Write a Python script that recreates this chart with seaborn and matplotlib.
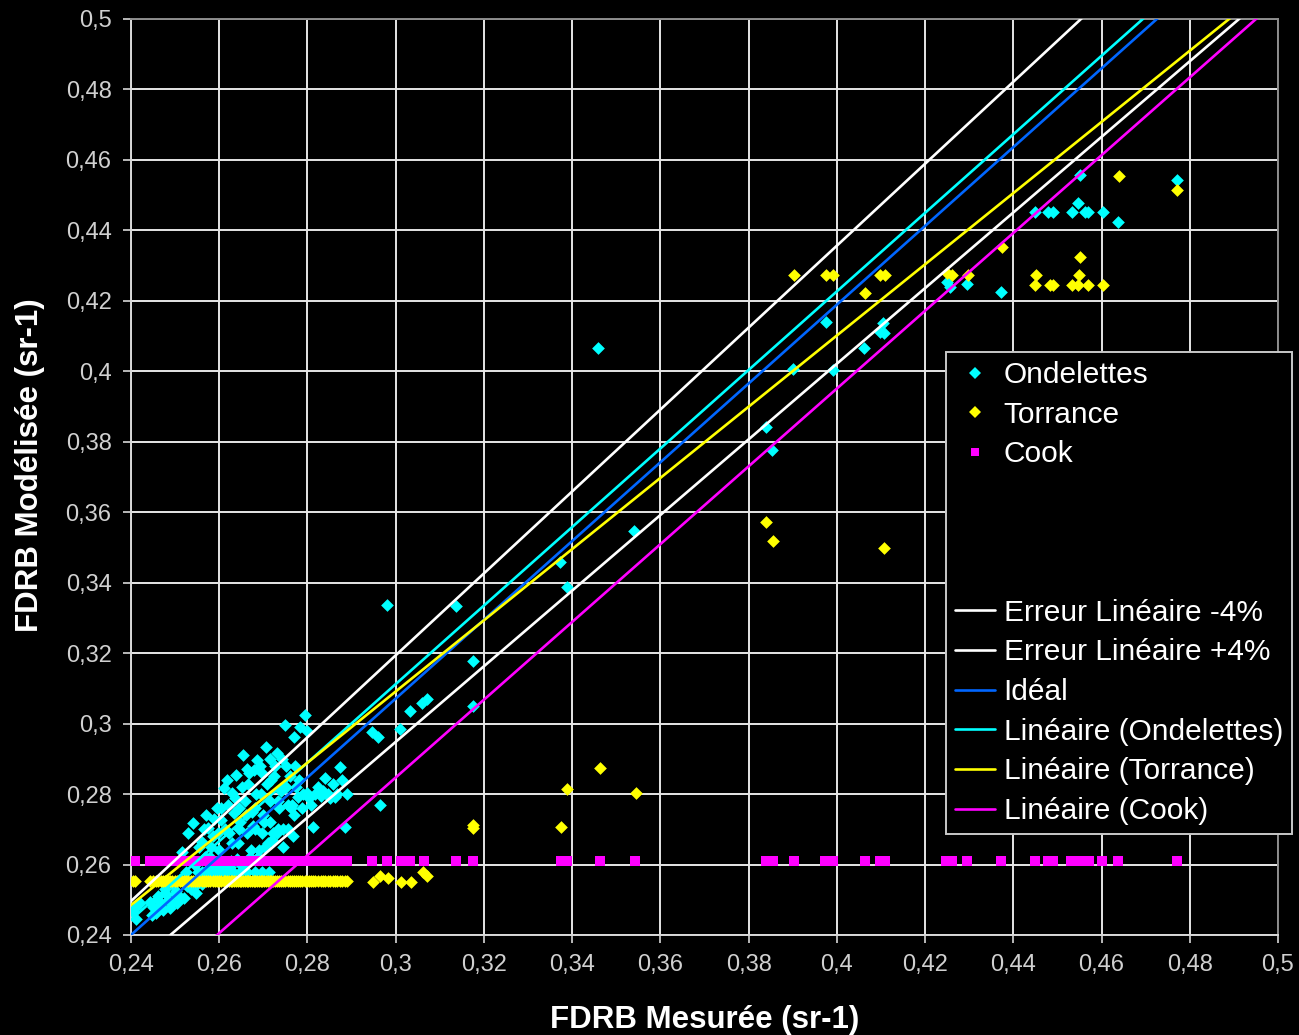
import numpy as np
import pandas as pd
import matplotlib
matplotlib.use("Agg")
import matplotlib.pyplot as plt
from matplotlib.ticker import MultipleLocator, FuncFormatter
from matplotlib.lines import Line2D
import seaborn as sns

sns.set_style("dark")
plt.rcParams["font.family"] = ["Liberation Sans", "DejaVu Sans"]

# ---------------------------------------------------------------------------
# FDRB mesurée (amas des faibles valeurs) et FDRB modélisée par chaque modèle
# ---------------------------------------------------------------------------
amas_x = [
    0.2405, 0.2410, 0.2444, 0.2450, 0.2456, 0.2461, 0.2467, 0.2472, 0.2478, 0.2483,
    0.2489, 0.2494, 0.2500, 0.2505, 0.2510, 0.2515, 0.2520, 0.2525, 0.2530, 0.2535,
    0.2540, 0.2545, 0.2550, 0.2555, 0.2560, 0.2565, 0.2570, 0.2575, 0.2580, 0.2585,
    0.2590, 0.2595, 0.2600, 0.2605, 0.2610, 0.2614, 0.2618, 0.2622, 0.2626, 0.2630,
    0.2634, 0.2638, 0.2642, 0.2646, 0.2650, 0.2654, 0.2658, 0.2662, 0.2666, 0.2670,
    0.2674, 0.2678, 0.2682, 0.2686, 0.2690, 0.2694, 0.2698, 0.2702, 0.2706, 0.2710,
    0.2714, 0.2718, 0.2722, 0.2726, 0.2730, 0.2735, 0.2740, 0.2745, 0.2750, 0.2755,
    0.2760, 0.2765, 0.2770, 0.2775, 0.2779, 0.2783, 0.2788, 0.2794, 0.2798, 0.2803,
    0.2808, 0.2813, 0.2818, 0.2824, 0.2830, 0.2836, 0.2840, 0.2846, 0.2852, 0.2858,
    0.2862, 0.2868, 0.2874, 0.2879, 0.2885, 0.2890,
]
ondelettes_amas = [
    0.2465, 0.2478, 0.2495, 0.2480, 0.2462, 0.2510, 0.2488, 0.2470, 0.2530, 0.2500,
    0.2476, 0.2545, 0.2515, 0.2490, 0.2560, 0.2635, 0.2505, 0.2580, 0.2690, 0.2530,
    0.2718, 0.2600, 0.2545, 0.2650, 0.2578, 0.2700, 0.2740, 0.2560, 0.2620, 0.2680,
    0.2595, 0.2760, 0.2640, 0.2726, 0.2817, 0.2580, 0.2840, 0.2690, 0.2610, 0.2803,
    0.2746, 0.2854, 0.2660, 0.2720, 0.2600, 0.2911, 0.2780, 0.2690, 0.2830, 0.2620,
    0.2750, 0.2868, 0.2700, 0.2897, 0.2640, 0.2800, 0.2860, 0.2720, 0.2934, 0.2660,
    0.2780, 0.2840, 0.2690, 0.2880, 0.2917, 0.2760, 0.2810, 0.2700, 0.2996, 0.2770,
    0.2850, 0.2769, 0.2962, 0.2820, 0.2792, 0.2990, 0.2760, 0.3024, 0.2803, 0.2790,
    0.2769, 0.2707, 0.2800, 0.2820, 0.2795, 0.2810, 0.2846, 0.2800, 0.2790, 0.2830,
    0.2792, 0.2800, 0.2877, 0.2840, 0.2707, 0.2800,
]
torrance_amas = [
    0.2553, 0.2553, 0.2553, 0.2552, 0.2553, 0.2552, 0.2553, 0.2552, 0.2553, 0.2552,
    0.2553, 0.2552, 0.2553, 0.2552, 0.2553, 0.2552, 0.2553, 0.2552, 0.2553, 0.2552,
    0.2553, 0.2552, 0.2553, 0.2552, 0.2553, 0.2552, 0.2553, 0.2552, 0.2553, 0.2552,
    0.2553, 0.2552, 0.2553, 0.2552, 0.2553, 0.2552, 0.2553, 0.2552, 0.2553, 0.2552,
    0.2553, 0.2552, 0.2553, 0.2552, 0.2553, 0.2552, 0.2553, 0.2552, 0.2553, 0.2552,
    0.2553, 0.2552, 0.2553, 0.2552, 0.2553, 0.2552, 0.2553, 0.2552, 0.2553, 0.2552,
    0.2553, 0.2552, 0.2553, 0.2552, 0.2553, 0.2552, 0.2553, 0.2552, 0.2553, 0.2552,
    0.2553, 0.2552, 0.2553, 0.2552, 0.2553, 0.2552, 0.2553, 0.2552, 0.2553, 0.2552,
    0.2553, 0.2552, 0.2553, 0.2552, 0.2553, 0.2552, 0.2553, 0.2552, 0.2553, 0.2552,
    0.2553, 0.2552, 0.2553, 0.2552, 0.2553, 0.2552,
]
cook_amas = [
    0.2610, 0.2610, 0.2610, 0.2610, 0.2610, 0.2610, 0.2610, 0.2610, 0.2610, 0.2610,
    0.2610, 0.2610, 0.2610, 0.2610, 0.2610, 0.2610, 0.2610, 0.2610, 0.2610, 0.2610,
    0.2610, 0.2610, 0.2610, 0.2610, 0.2610, 0.2610, 0.2610, 0.2610, 0.2610, 0.2610,
    0.2610, 0.2610, 0.2610, 0.2610, 0.2610, 0.2610, 0.2610, 0.2610, 0.2610, 0.2610,
    0.2610, 0.2610, 0.2610, 0.2610, 0.2610, 0.2610, 0.2610, 0.2610, 0.2610, 0.2610,
    0.2610, 0.2610, 0.2610, 0.2610, 0.2610, 0.2610, 0.2610, 0.2610, 0.2610, 0.2610,
    0.2610, 0.2610, 0.2610, 0.2610, 0.2610, 0.2610, 0.2610, 0.2610, 0.2610, 0.2610,
    0.2610, 0.2610, 0.2610, 0.2610, 0.2610, 0.2610, 0.2610, 0.2610, 0.2610, 0.2610,
    0.2610, 0.2610, 0.2610, 0.2610, 0.2610, 0.2610, 0.2610, 0.2610, 0.2610, 0.2610,
    0.2610, 0.2610, 0.2610, 0.2610, 0.2610, 0.2610,
]

# Ondelettes : bande dense des faibles valeurs
ondelettes_bande_x = [
    0.2412, 0.2420, 0.2448, 0.2458, 0.2470, 0.2480, 0.2492, 0.2503, 0.2514, 0.2526,
    0.2537, 0.2548, 0.2552, 0.2560, 0.2568, 0.2576, 0.2584, 0.2592, 0.2600, 0.2608,
    0.2616, 0.2624, 0.2632, 0.2640, 0.2648, 0.2656, 0.2664, 0.2672, 0.2680, 0.2688,
    0.2696, 0.2704, 0.2712, 0.2720, 0.2732, 0.2744, 0.2756, 0.2768,
]
ondelettes_bande_y = [
    0.2445, 0.2490, 0.2458, 0.2502, 0.2478, 0.2515, 0.2492, 0.2525, 0.2505, 0.2540,
    0.2550, 0.2520, 0.2578, 0.2545, 0.2578, 0.2590, 0.2578, 0.2560, 0.2578, 0.2600,
    0.2578, 0.2592, 0.2578, 0.2615, 0.2578, 0.2600, 0.2578, 0.2640, 0.2578, 0.2620,
    0.2578, 0.2650, 0.2578, 0.2670, 0.2690, 0.2650, 0.2700, 0.2680,
]
# Ondelettes : coeur de l'amas
ondelettes_coeur_x = [
    0.2562, 0.2568, 0.2574, 0.2582, 0.2588, 0.2597, 0.2603, 0.2612, 0.2620, 0.2628,
    0.2636, 0.2644, 0.2652, 0.2660, 0.2668, 0.2676, 0.2684, 0.2692, 0.2700, 0.2708,
    0.2716, 0.2724, 0.2733, 0.2742, 0.2752, 0.2762, 0.2772, 0.2781, 0.2790, 0.2800,
    0.2644, 0.2662, 0.2680, 0.2698, 0.2716, 0.2734, 0.2752, 0.2770,
]
ondelettes_coeur_y = [
    0.2665, 0.2620, 0.2705, 0.2650, 0.2730, 0.2690, 0.2760, 0.2700, 0.2770, 0.2660,
    0.2790, 0.2700, 0.2820, 0.2740, 0.2860, 0.2710, 0.2800, 0.2880, 0.2740, 0.2830,
    0.2720, 0.2850, 0.2780, 0.2900, 0.2820, 0.2760, 0.2880, 0.2840, 0.2800, 0.2980,
    0.2760, 0.2870, 0.2760, 0.2690, 0.2900, 0.2700, 0.2880, 0.2740,
]

# Valeurs plus élevées, par modèle
ondelettes_x = [
    0.2946, 0.2960, 0.2965, 0.2980, 0.3010, 0.3033, 0.3060, 0.3070, 0.3137, 0.3175,
    0.3175, 0.3373, 0.3388, 0.3459, 0.3540, 0.3840, 0.3853, 0.3900, 0.3976, 0.3991,
    0.4062, 0.4098, 0.4105, 0.4107, 0.4250, 0.4257, 0.4295, 0.4372, 0.4450, 0.4479,
    0.4490, 0.4533, 0.4547, 0.4551, 0.4563, 0.4570, 0.4604, 0.4638, 0.4771,
]
ondelettes_y = [
    0.2976, 0.2962, 0.2769, 0.3337, 0.2985, 0.3036, 0.3058, 0.3070, 0.3334, 0.3178,
    0.3050, 0.3459, 0.3388, 0.4066, 0.3547, 0.3842, 0.3777, 0.4007, 0.4140, 0.4004,
    0.4066, 0.4112, 0.4137, 0.4109, 0.4253, 0.4239, 0.4248, 0.4225, 0.4452, 0.4452,
    0.4452, 0.4452, 0.4478, 0.4557, 0.4452, 0.4452, 0.4452, 0.4424, 0.4543,
]
torrance_x = [
    0.2949, 0.2965, 0.2983, 0.3012, 0.3035, 0.3062, 0.3070, 0.3175, 0.3175, 0.3375,
    0.3388, 0.3463, 0.3545, 0.3840, 0.3856, 0.3903, 0.3976, 0.3991, 0.4064, 0.4098,
    0.4109, 0.4107, 0.4250, 0.4261, 0.4298, 0.4375, 0.4450, 0.4452, 0.4483, 0.4490,
    0.4533, 0.4547, 0.4549, 0.4551, 0.4570, 0.4604, 0.4640, 0.4771,
]
torrance_y = [
    0.2550, 0.2567, 0.2562, 0.2550, 0.2550, 0.2579, 0.2567, 0.2712, 0.2705, 0.2707,
    0.2814, 0.2874, 0.2803, 0.3572, 0.3518, 0.4273, 0.4273, 0.4273, 0.4222, 0.4273,
    0.4273, 0.3498, 0.4279, 0.4273, 0.4273, 0.4353, 0.4245, 0.4273, 0.4245, 0.4245,
    0.4245, 0.4245, 0.4273, 0.4324, 0.4245, 0.4245, 0.4554, 0.4515,
]
cook_x = [
    0.2947, 0.2981, 0.3012, 0.3032, 0.3064, 0.3136, 0.3175, 0.3375, 0.3388, 0.3462,
    0.3543, 0.3840, 0.3856, 0.3902, 0.3973, 0.3991, 0.4064, 0.4098, 0.4109, 0.4248,
    0.4261, 0.4295, 0.4372, 0.4450, 0.4479, 0.4490, 0.4531, 0.4542, 0.4551, 0.4563,
    0.4572, 0.4601, 0.4638, 0.4771,
]
cook_y = [
    0.2610, 0.2610, 0.2610, 0.2610, 0.2610, 0.2610, 0.2610, 0.2610, 0.2610, 0.2610,
    0.2610, 0.2610, 0.2610, 0.2610, 0.2610, 0.2610, 0.2610, 0.2610, 0.2610, 0.2610,
    0.2610, 0.2610, 0.2610, 0.2610, 0.2610, 0.2610, 0.2610, 0.2610, 0.2610, 0.2610,
    0.2610, 0.2610, 0.2610, 0.2610,
]

# Droites : (pente, ordonnée à l'origine)
ideal = (1.118, -0.0283)
erreur_relative = 0.04
tendance_ondelettes = (1.1147, -0.0232)
tendance_torrance = (1.0104, 0.0060)
tendance_cook = (1.104, -0.0465)

series_labels = ["Ondelettes", "Torrance", "Cook"]
line_labels = ["Erreur Linéaire -4%", "Erreur Linéaire +4%", "Idéal",
               "Linéaire (Ondelettes)", "Linéaire (Torrance)", "Linéaire (Cook)"]
xlabel = "FDRB Mesurée (sr-1)"
ylabel = "FDRB Modélisée (sr-1)"

C_OND, C_TOR, C_COOK = "#00ffff", "#ffff00", "#ff00ff"
C_IDEAL, C_ERR = "#0066ff", "#ffffff"

W, H = 1299, 1035
fig = plt.figure(figsize=(W / 100, H / 100), dpi=100, facecolor="black")
ax = fig.add_axes([131 / W, 1 - 935 / H, (1278 - 131) / W, (935 - 19) / H])
ax.set_facecolor("black")

ond_df = pd.DataFrame({
    "x": amas_x + ondelettes_bande_x + ondelettes_coeur_x + ondelettes_x,
    "y": ondelettes_amas + ondelettes_bande_y + ondelettes_coeur_y + ondelettes_y,
})
tor_df = pd.DataFrame({"x": amas_x + torrance_x, "y": torrance_amas + torrance_y})
cook_df = pd.DataFrame({"x": amas_x + cook_x, "y": cook_amas + cook_y})

sns.scatterplot(data=ond_df, x="x", y="y", marker="D", s=42, color=C_OND,
                linewidth=0, ax=ax, zorder=3, legend=False)
sns.scatterplot(data=tor_df, x="x", y="y", marker="D", s=42, color=C_TOR,
                linewidth=0, ax=ax, zorder=3.1, legend=False)
sns.scatterplot(data=cook_df, x="x", y="y", marker="s", s=62, color=C_COOK,
                linewidth=0, ax=ax, zorder=3.2, legend=False)

xs = np.array([0.20, 0.55])


def droite(coef, facteur=1.0):
    pente, origine = coef
    return facteur * (pente * xs + origine)


lignes = [
    (droite(ideal, 1 + erreur_relative), C_ERR),
    (droite(ideal, 1 - erreur_relative), C_ERR),
    (droite(ideal), C_IDEAL),
    (droite(tendance_ondelettes), C_OND),
    (droite(tendance_torrance), C_TOR),
    (droite(tendance_cook), C_COOK),
]
for ys, col in lignes:
    sns.lineplot(x=xs, y=ys, color=col, lw=1.9, ax=ax, zorder=4)

ax.set_xlim(0.24, 0.5)
ax.set_ylim(0.24, 0.5)
ax.xaxis.set_major_locator(MultipleLocator(0.02))
ax.yaxis.set_major_locator(MultipleLocator(0.02))
fmt = FuncFormatter(lambda v, p: f"{round(v, 2):g}".replace(".", ","))
ax.xaxis.set_major_formatter(fmt)
ax.yaxis.set_major_formatter(fmt)

ax.set_axisbelow(True)
ax.grid(True, color="#e6e6e6", lw=1.4)
for side in ["top", "right"]:
    ax.spines[side].set_color("#8c8c8c")
for side in ["left", "bottom"]:
    ax.spines[side].set_color("#d8d8d8")
for sp in ax.spines.values():
    sp.set_visible(True)
    sp.set_linewidth(1.4)
    sp.set_zorder(2.5)

ax.tick_params(axis="both", which="major", direction="out", length=6, width=1.2,
               color="#d8d8d8", labelcolor="#d0d0d0", labelsize=17, pad=8,
               bottom=True, left=True, top=False, right=False)

ax.set_xlabel(xlabel, color="white", fontsize=22.5, fontweight="bold")
ax.set_ylabel(ylabel, color="white", fontsize=22.5, fontweight="bold")
ax.xaxis.set_label_coords(0.5, -(1020 - 935) / 916)
ax.xaxis.label.set_va("center")
ax.yaxis.set_label_coords(-(131 - 30) / 1147, (935 - 465) / 916)
ax.yaxis.label.set_va("center")

handles = [
    Line2D([], [], marker="D", ls="none", color=C_OND, ms=6, mew=0),
    Line2D([], [], marker="D", ls="none", color=C_TOR, ms=6, mew=0),
    Line2D([], [], marker="s", ls="none", color=C_COOK, ms=6, mew=0),
    Line2D([], [], ls="none"),
    Line2D([], [], ls="none"),
    Line2D([], [], ls="none"),
    Line2D([], [], color=C_ERR, lw=1.9),
    Line2D([], [], color=C_ERR, lw=1.9),
    Line2D([], [], color=C_IDEAL, lw=1.9),
    Line2D([], [], color=C_OND, lw=1.9),
    Line2D([], [], color=C_TOR, lw=1.9),
    Line2D([], [], color=C_COOK, lw=1.9),
]
labels = series_labels + [" ", " ", " "] + line_labels
leg = ax.legend(handles, labels, loc="upper left",
                bbox_to_anchor=(946 / W, 1 - 352 / H), bbox_transform=fig.transFigure,
                borderaxespad=0, fontsize=21.5, frameon=True, fancybox=False,
                facecolor="black", edgecolor="#c8c8c8", framealpha=1,
                borderpad=0.3, labelspacing=0.39, handlelength=1.33,
                handletextpad=0.3, labelcolor="white")
leg.get_frame().set_linewidth(1.4)
leg.set_zorder(10)

fig.savefig("out.png", dpi=100, facecolor="black")
